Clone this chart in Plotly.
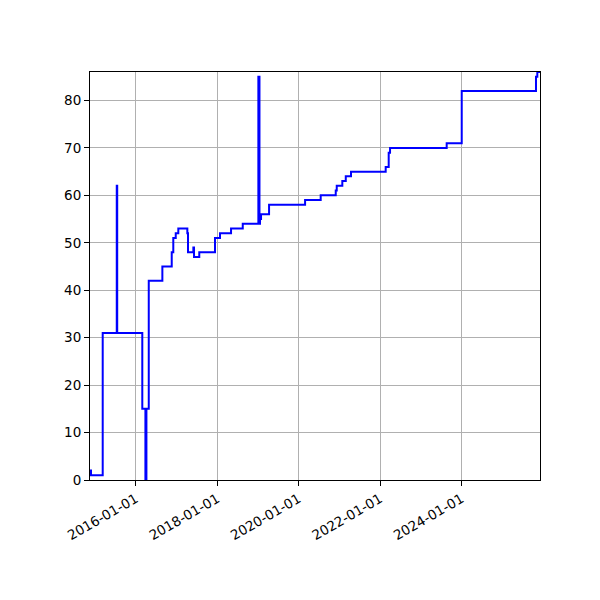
import plotly.graph_objects as go

# step series: date of change and the new value
dates = [
    "2014-11-17", "2014-11-26", "2015-03-11", "2015-07-15", "2015-07-19",
    "2016-02-29", "2016-03-28", "2016-04-06", "2016-04-27", "2016-08-27",
    "2016-11-19", "2016-12-03", "2016-12-25", "2017-01-17", "2017-04-08",
    "2017-04-14", "2017-06-01", "2017-06-07", "2017-07-24", "2017-12-12",
    "2018-01-26", "2018-05-05", "2018-08-18", "2019-01-05", "2019-01-15",
    "2019-01-20", "2019-01-29", "2019-04-11", "2020-02-28", "2020-07-17",
    "2020-11-29", "2020-12-08", "2021-01-27", "2021-02-27", "2021-04-15",
    "2022-02-20", "2022-03-19", "2022-03-31", "2023-08-21", "2024-01-03",
    "2025-10-30", "2025-11-11", "2025-12-05",
]
values = [
    2, 1, 31, 62, 31,
    15, 0, 15, 42, 45,
    48, 51, 52, 53, 52,
    48, 49, 47, 48, 51,
    52, 53, 54, 85, 54,
    55, 56, 58, 59, 60,
    61, 62, 63, 64, 65,
    66, 69, 70, 71, 82,
    85, 86, 86,
]
x_ticks = ["2016-01-01", "2018-01-01", "2020-01-01", "2022-01-01", "2024-01-01"]

fig = go.Figure()
fig.add_trace(go.Scatter(
    x=dates, y=values, mode="lines", line_shape="hv",
    line=dict(color="#0000ff", width=2),
))

axis_common = dict(
    showline=True, linecolor="black", linewidth=1, mirror=True,
    ticks="outside", ticklen=5, tickcolor="black",
    showgrid=True, gridcolor="#b0b0b0", gridwidth=1, zeroline=False,
    tickfont=dict(family="DejaVu Sans", size=13.5, color="black"),
)

# page adds an 8px body offset, so margins are shifted to compensate
fig.update_layout(
    width=600, height=600,
    margin=dict(l=82, r=68, t=64, b=128),
    plot_bgcolor="white", paper_bgcolor="white",
    showlegend=False,
    xaxis=dict(
        range=[dates[0], dates[-1]],
        tickvals=x_ticks, ticktext=x_ticks, tickangle=-30,
        **axis_common,
    ),
    yaxis=dict(range=[0, 86], dtick=10, **axis_common),
)

fig.write_html("out.html")
